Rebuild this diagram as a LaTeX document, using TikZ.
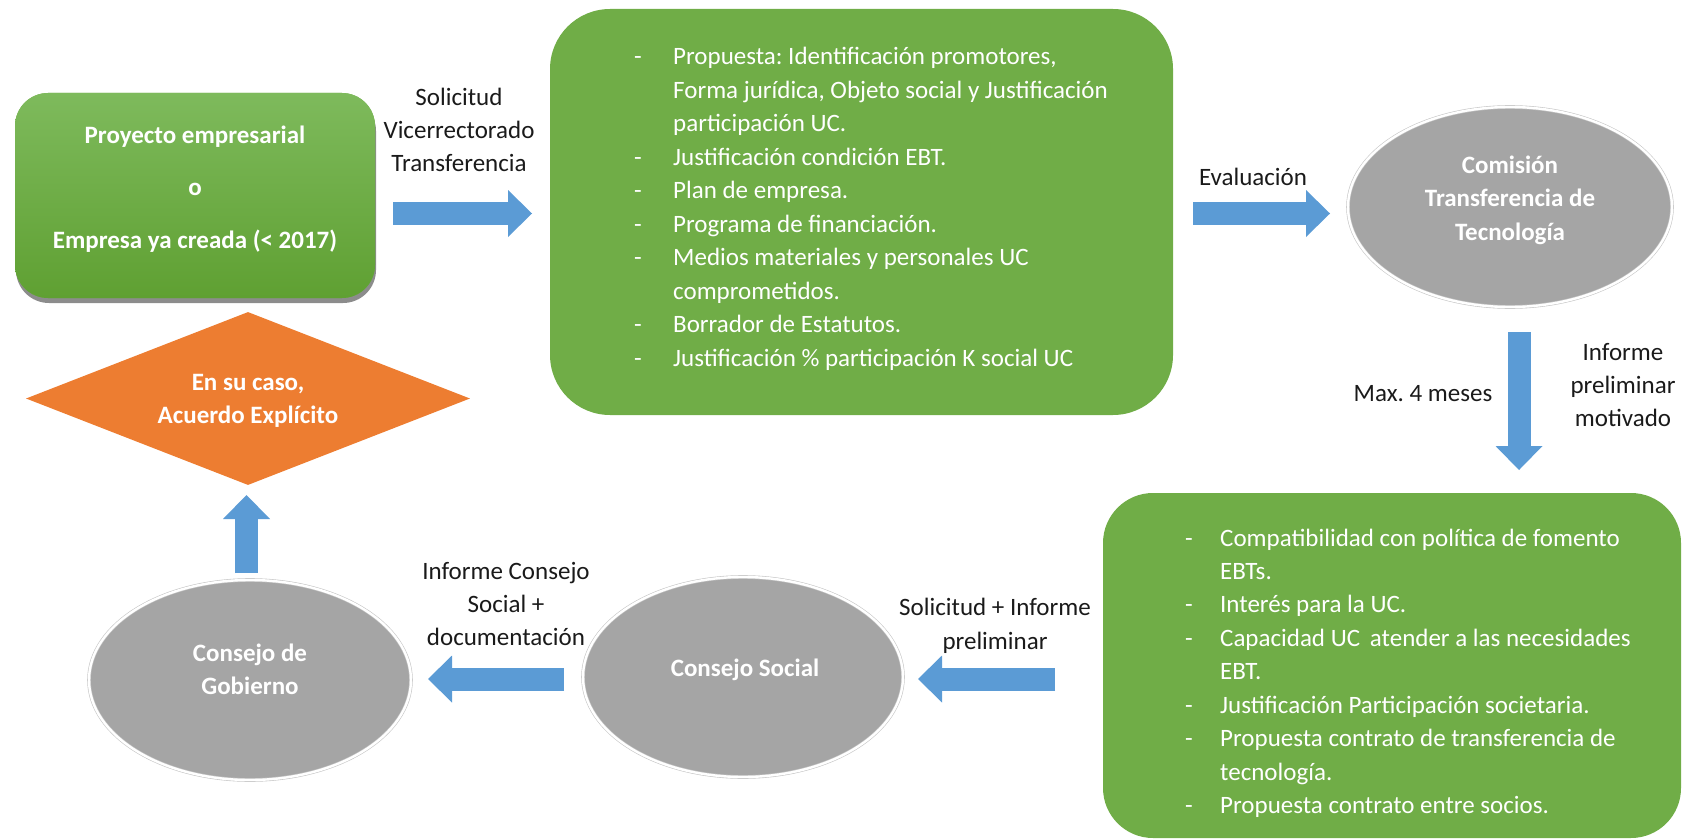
\documentclass[tikz,border=0pt]{standalone}
\usepackage{fontspec}
\setmainfont{Carlito}
\usetikzlibrary{shapes.geometric,arrows.meta,shadows}
\definecolor{ofgreen}{HTML}{70AD47}
\definecolor{ofgray}{HTML}{A5A5A5}
\definecolor{oforange}{HTML}{ED7D31}
\definecolor{ofblue}{HTML}{5B9BD5}
\definecolor{gtop}{HTML}{7EBA5C}
\definecolor{gbot}{HTML}{5FA032}
\definecolor{labelc}{HTML}{1A1A1A}
\frenchspacing
\newcommand{\bitem}[2]{\makebox[#1][l]{-}#2}
\newcommand{\bcont}[2]{\hspace*{#1}#2}
\newcommand{\ml}[2]{\parbox[t]{520pt}{\centering\fontsize{25}{#1}\selectfont #2}}
\newcommand{\lst}[1]{\parbox[t]{560pt}{\raggedright\fontsize{25}{33.45}\selectfont #1}}
\begin{document}
\begin{tikzpicture}[x=1pt,y=-1pt,
  txt/.style={inner sep=0pt, anchor=base, text=labelc, font=\fontsize{25}{33.5}\selectfont},
  wtxt/.style={inner sep=0pt, text=white, font=\fontsize{25}{33.5}\selectfont},
  wbold/.style={inner sep=0pt, anchor=base, text=white, font=\fontsize{25}{33}\selectfont\bfseries},
  greenbox/.style={rectangle, fill=ofgreen, draw=none, inner sep=0pt},
  grayell/.style={ellipse, fill=ofgray, draw=gray!45, line width=0.6pt, double=white, double distance=2.4pt, inner sep=0pt},
  barrow/.style={draw=ofblue, line width=23pt, -{Triangle[length=24pt,width=47pt,line width=0pt]}}
]
\useasboundingbox (0,0) rectangle (1691,840);

% nodes
\node[greenbox, rounded corners=33pt, minimum width=360pt, minimum height=205pt,
      top color=gtop, bottom color=gbot,
      drop shadow={shadow xshift=1pt, shadow yshift=-5pt, opacity=0.45, fill=black}] (proj) at (195,195.5) {};
\node[wbold] (projtxt) at (195,143) {\ml{52.5pt}{Proyecto empresarial\\o\\Empresa ya creada (< 2017)}};

\node[greenbox, rounded corners=60pt, minimum width=623pt, minimum height=406pt] (prop) at (861.5,212) {};
\node[wtxt, anchor=base west] (proptxt) at (634,65) {\lst{%
\bitem{39pt}{Propuesta: Identificación promotores,}\\
\bcont{39pt}{Forma jurídica, Objeto social y Justificación}\\
\bcont{39pt}{participación UC.}\\
\bitem{39pt}{Justificación condición EBT.}\\
\bitem{39pt}{Plan de empresa.}\\
\bitem{39pt}{Programa de financiación.}\\
\bitem{39pt}{Medios materiales y personales UC}\\
\bcont{39pt}{comprometidos.}\\
\bitem{39pt}{Borrador de Estatutos.}\\
\bitem{39pt}{Justificación \% participación K social UC}}};

\node[grayell, minimum width=324pt, minimum height=200pt] (ctt) at (1510,207) {};
\node[wbold] (ctttxt) at (1510,173) {\ml{33.5pt}{Comisión\\Transferencia de\\Tecnología}};

\node[greenbox, rounded corners=50pt, minimum width=578pt, minimum height=345pt] (crit) at (1392,665.5) {};
\node[wtxt, anchor=base west] (crittxt) at (1185,546) {\lst{%
\bitem{35pt}{Compatibilidad con política de fomento}\\
\bcont{35pt}{EBTs.}\\
\bitem{35pt}{Interés para la UC.}\\
\bitem{35pt}{Capacidad UC\, atender a las necesidades}\\
\bcont{35pt}{EBT.}\\
\bitem{35pt}{Justificación Participación societaria.}\\
\bitem{35pt}{Propuesta contrato de transferencia de}\\
\bcont{35pt}{tecnología.}\\
\bitem{35pt}{Propuesta contrato entre socios.}}};

\node[grayell, minimum width=320pt, minimum height=200pt] (cs) at (743,677) {};
\node[wbold] (cstxt) at (745,676) {Consejo Social};

\node[grayell, minimum width=322pt, minimum height=200pt] (cg) at (250,680) {};
\node[wbold] (cgtxt) at (250,661) {\ml{33pt}{Consejo de\\Gobierno}};

\node[diamond, fill=oforange, draw=none, inner sep=0pt, minimum width=444pt, minimum height=173pt] (acu) at (248,398.5) {};
\node[wbold] (acutxt) at (248,390) {\ml{33pt}{En su caso,\\Acuerdo Explícito}};

% labels
\node[txt] (l1) at (459,106) {\ml{33pt}{Solicitud\\Vicerrectorado\\Transferencia}};
\node[txt] (l2) at (1253,185) {Evaluación};
\node[txt] (l3) at (1423,401) {Max. 4 meses};
\node[txt] (l4) at (1623,360) {\ml{33pt}{Informe\\preliminar\\motivado}};
\node[txt] (l5) at (995,615) {\ml{34pt}{Solicitud + Informe\\preliminar}};
\node[txt] (l6) at (506,579) {\ml{33pt}{Informe Consejo\\Social +\\documentación}};

% connectors
\coordinate (a1s) at (393,213.5);  \coordinate (a1e) at (532,213.5);
\coordinate (a2s) at (1193,213.5); \coordinate (a2e) at (1330,213.5);
\coordinate (a3s) at (1519,332);   \coordinate (a3e) at (1519,470);
\coordinate (a4s) at (1055,679);   \coordinate (a4e) at (918,679);
\coordinate (a5s) at (564,679);    \coordinate (a5e) at (428,679);
\coordinate (a6s) at (246.5,573);  \coordinate (a6e) at (246.5,495);
\draw[barrow] (a1s) -- (a1e);
\draw[barrow] (a2s) -- (a2e);
\draw[barrow] (a3s) -- (a3e);
\draw[barrow] (a4s) -- (a4e);
\draw[barrow] (a5s) -- (a5e);
\draw[barrow] (a6s) -- (a6e);
\end{tikzpicture}
\end{document}
